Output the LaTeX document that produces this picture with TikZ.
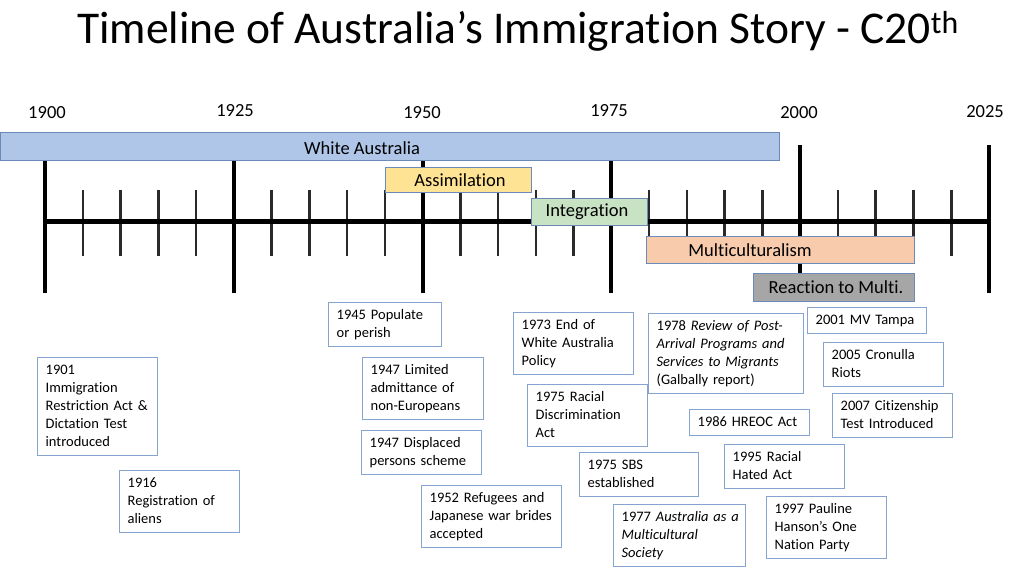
\documentclass[tikz,border=0pt]{standalone}
\usepackage{fontspec}
\setmainfont{Carlito}[Ligatures=NoCommon]
\definecolor{waFill}{HTML}{B0C6E8}
\definecolor{asFill}{HTML}{FFE394}
\definecolor{inFill}{HTML}{C8E2C4}
\definecolor{muFill}{HTML}{F8CBAD}
\definecolor{reFill}{HTML}{A6A6A6}
\definecolor{barEdge}{HTML}{6B8AB8}
\definecolor{evEdge}{HTML}{86A4D0}
\definecolor{minorTick}{HTML}{2A2A2A}
\newcommand\evfont{\fontsize{14.5}{18}\selectfont}
\newcommand\barfont{\fontsize{18.5}{22}\selectfont}
\begin{document}
\begin{tikzpicture}[x=1pt,y=-1pt,
  evbox/.style={draw=evEdge, line width=1.3pt, fill=white, inner xsep=8pt, inner ysep=4pt,
    align=left, anchor=north west, font=\evfont,
    execute at begin node={\hyphenpenalty=10000\relax\strut}, execute at end node={\strut}},
  barbox/.style={draw=barEdge, line width=1pt, anchor=north west, inner sep=0pt},
  bartext/.style={font=\barfont, inner sep=0pt, anchor=center},
  yearlabel/.style={font=\barfont, inner sep=0pt, anchor=base},
  majortick/.style={line width=4pt, black},
  minortick/.style={line width=2.5pt, minorTick},
  axisline/.style={line width=5pt, black}
]
\useasboundingbox (0,0) rectangle (1024,576);
\fill[white] (0,0) rectangle (1024,576);

% title
\node[anchor=base west, inner sep=0pt, font=\fontsize{45.5}{54}\selectfont] (title) at (77,43)
  {Timeline of Australia’s Immigration Story - C20\textsuperscript{th}};

% year labels
\node[yearlabel] (y1900) at (47,118) {1900};
\node[yearlabel] (y1925) at (235,116) {1925};
\node[yearlabel] (y1950) at (422,118) {1950};
\node[yearlabel] (y1975) at (609,116) {1975};
\node[yearlabel] (y2000) at (799,118) {2000};
\node[yearlabel] (y2025) at (985,117) {2025};

% axis
\foreach \yr in {1905,1910,1915,1920,1930,1935,1940,1945,1955,1960,1965,1970,1980,1985,1990,1995,2005,2010,2015,2020}
  \draw[minortick] ({45+(\yr-1900)*7.552},190) -- ({45+(\yr-1900)*7.552},256);
\draw[axisline] (45,221) -- (989,221);
\foreach \yr in {1900,1925,1950,1975,2000,2025}
  \draw[majortick] ({45+(\yr-1900)*7.552},145) -- ({45+(\yr-1900)*7.552},293);

% policy bars
\node[barbox, fill=waFill, minimum width=779pt, minimum height=28pt] (wa) at (0,132) {};
\node[bartext] (waT) at (362,148) {White Australia};
\node[barbox, fill=asFill, minimum width=146pt, minimum height=25pt] (as) at (385,167) {};
\node[bartext] (asT) at (460,180) {Assimilation};
\node[barbox, fill=inFill, minimum width=116pt, minimum height=27pt] (in) at (531,198) {};
\node[bartext] (inT) at (587,212) {Integration};
\node[barbox, fill=muFill, minimum width=268pt, minimum height=27pt] (mu) at (646,236) {};
\node[bartext] (muT) at (750,250) {Multiculturalism};
\node[barbox, fill=reFill, minimum width=161pt, minimum height=28pt] (re) at (753,273) {};
\node[bartext] (reT) at (836,287) {Reaction to Multi.};

% event boxes
\node[evbox, text width=104pt] (e1901) at (37,357) {1901\\Immigration\\Restriction Act \&\\Dictation Test\\introduced};
\node[evbox, text width=104pt] (e1916) at (119,470) {1916\\Registration of\\aliens};
\node[evbox, text width=97pt] (e1945) at (328,302) {1945 Populate\\or perish};
\node[evbox, text width=105pt] (e1947a) at (362,357) {1947 Limited\\admittance of\\non-Europeans};
\node[evbox, text width=104pt] (e1947b) at (361,430) {1947 Displaced\\persons scheme};
\node[evbox, text width=124pt] (e1952) at (421,485) {\mbox{1952 Refugees and}\\\mbox{Japanese war brides}\\accepted};
\node[evbox, text width=104pt] (e1973) at (513,312) {1973 End of\\White Australia\\Policy};
\node[evbox, text width=104pt] (e1975a) at (527,384) {1975 Racial\\Discrimination\\Act};
\node[evbox, text width=103pt] (e1975b) at (579,452) {1975 SBS\\established};
\node[evbox, text width=116pt] (e1977) at (613,504) {\mbox{1977 \textit{Australia as a}}\\\textit{Multicultural}\\\textit{Society}};
\node[evbox, text width=139pt] (e1978) at (648,313) {\mbox{1978 \textit{Review of Post-}}\\\mbox{\textit{Arrival Programs and}}\\\mbox{\textit{Services to Migrants}}\\(Galbally report)};
\node[evbox, text width=104pt] (e1986) at (689,409) {\mbox{1986 HREOC Act}};
\node[evbox, text width=104pt] (e1995) at (724,444) {1995 Racial\\Hated Act};
\node[evbox, text width=104pt] (e1997) at (766,496) {1997 Pauline\\Hanson’s One\\Nation Party};
\node[evbox, text width=103pt] (e2001) at (807,307) {\mbox{2001 MV Tampa}};
\node[evbox, text width=104pt] (e2005) at (823,342) {2005 Cronulla\\Riots};
\node[evbox, text width=104pt] (e2007) at (832,393) {\mbox{2007 Citizenship}\\\mbox{Test Introduced}};
\end{tikzpicture}
\end{document}
